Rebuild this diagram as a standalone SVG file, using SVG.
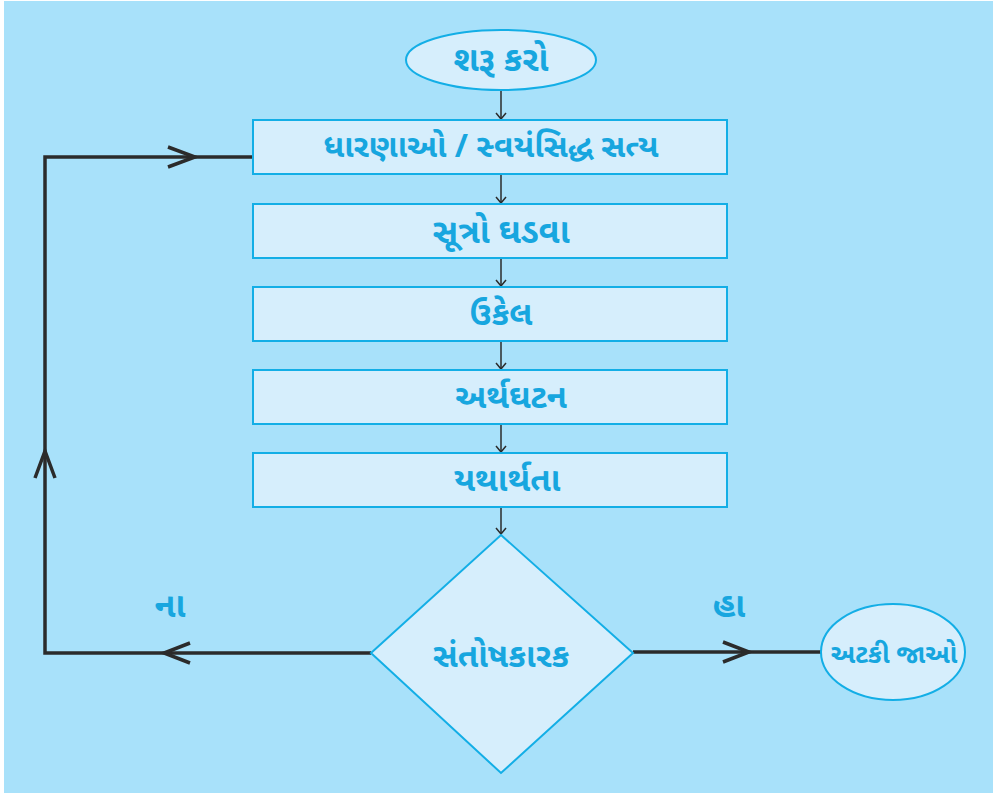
<svg xmlns="http://www.w3.org/2000/svg" width="993" height="794" viewBox="0 0 993 794">
  <defs>
    <style>
      .node { fill: #d6eefc; stroke: #13aee6; stroke-width: 2; }
      .lbl { font-family: "Noto Sans Gujarati", "Noto Sans", "Liberation Sans", sans-serif; font-weight: bold; fill: #17a6df; text-anchor: middle; dominant-baseline: central; }
      .thin { stroke: #2b2b2b; stroke-width: 1.5; fill: none; }
      .thick { stroke: #2b2b2b; stroke-width: 3.5; fill: none; }
    </style>
    <marker id="small" viewBox="0 0 10 12" refX="9" refY="6" markerWidth="10" markerHeight="12" markerUnits="userSpaceOnUse" orient="auto">
      <path d="M3,1 L9,6 L3,11" fill="none" stroke="#2b2b2b" stroke-width="1.5"/>
    </marker>
  </defs>

  <rect x="4" y="1" width="989" height="792" fill="#a8e1fa"/>

  <g id="connectors">
    <!-- vertical flow between steps -->
    <line class="thin" x1="501" y1="90" x2="501" y2="119" marker-end="url(#small)"/>
    <line class="thin" x1="501" y1="175" x2="501" y2="203" marker-end="url(#small)"/>
    <line class="thin" x1="501" y1="259" x2="501" y2="286" marker-end="url(#small)"/>
    <line class="thin" x1="501" y1="342" x2="501" y2="369" marker-end="url(#small)"/>
    <line class="thin" x1="501" y1="425" x2="501" y2="452" marker-end="url(#small)"/>
    <line class="thin" x1="501" y1="508" x2="501" y2="534" marker-end="url(#small)"/>
    <!-- "no" feedback loop -->
    <polyline class="thick" points="371,653 45,653 45,157 253,157"/>
    <path class="thick" d="M190,643 L164,653 L190,663"/>
    <path class="thick" d="M35,478 L45,451 L55,478"/>
    <path class="thick" d="M168,147 L195,157 L168,167"/>
    <!-- "yes" exit -->
    <line class="thick" x1="633" y1="652" x2="822" y2="652"/>
    <path class="thick" d="M723,642 L749,652 L723,662"/>
  </g>

  <g id="start">
    <ellipse class="node" cx="501" cy="60" rx="95" ry="30"/>
    <text class="lbl" x="501" y="63" font-size="34">શરૂ કરો</text>
  </g>
  <g id="assumptions">
    <rect class="node" x="253" y="120" width="474" height="54"/>
    <text class="lbl" x="491" y="149" font-size="32">ધારણાઓ / સ્વયંસિદ્ધ સત્ય</text>
  </g>
  <g id="formulate">
    <rect class="node" x="253" y="204" width="474" height="54"/>
    <text class="lbl" x="501" y="235" font-size="34">સૂત્રો ઘડવા</text>
  </g>
  <g id="solve">
    <rect class="node" x="253" y="287" width="474" height="54"/>
    <text class="lbl" x="501" y="316" font-size="33">ઉકેલ</text>
  </g>
  <g id="interpret">
    <rect class="node" x="253" y="370" width="474" height="54"/>
    <text class="lbl" x="511" y="399" font-size="33">અર્થઘટન</text>
  </g>
  <g id="validate">
    <rect class="node" x="253" y="453" width="474" height="54"/>
    <text class="lbl" x="507" y="482" font-size="33">યથાર્થતા</text>
  </g>
  <g id="decision">
    <polygon class="node" points="501,535 633,653 501,773 371,653"/>
    <text class="lbl" x="501" y="658" font-size="33">સંતોષકારક</text>
  </g>
  <g id="stop">
    <ellipse class="node" cx="893" cy="652" rx="72" ry="48"/>
    <text class="lbl" x="894" y="657" font-size="26">અટકી જાઓ</text>
  </g>

  <text class="lbl" x="170" y="609" font-size="34">ના</text>
  <text class="lbl" x="729" y="609" font-size="34">હા</text>
</svg>
